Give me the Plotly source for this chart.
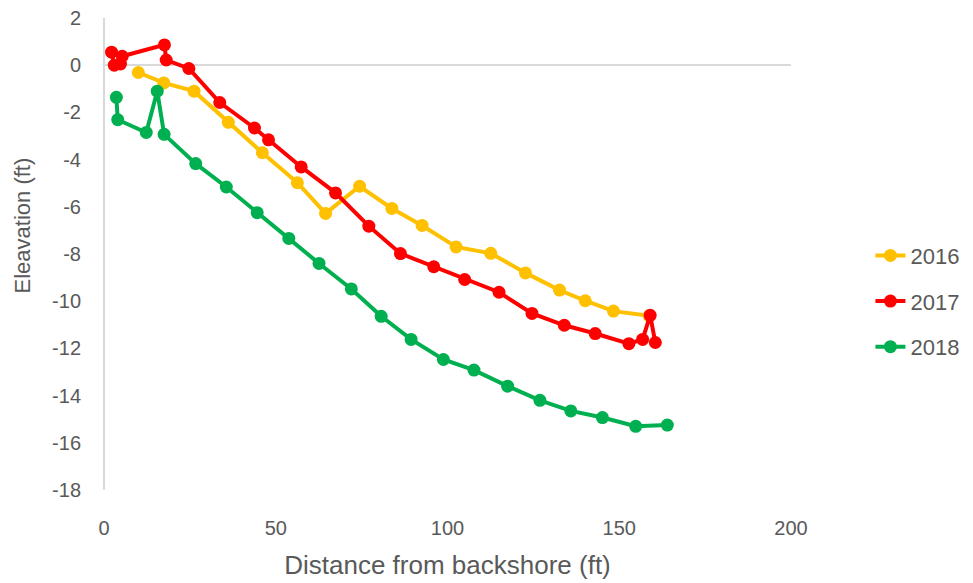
import plotly.graph_objects as go

# ---- data ----
x_2016 = [10.0, 17.4, 26.2, 36.2, 46.1, 56.3, 64.5, 74.4, 83.8, 92.6, 102.5, 112.6, 122.7, 132.6, 140.1, 148.3, 158.7]
y_2016 = [-0.31, -0.75, -1.10, -2.42, -3.71, -4.98, -6.28, -5.13, -6.07, -6.79, -7.70, -7.97, -8.80, -9.53, -9.98, -10.42, -10.62]

x_2017 = [2.2, 3.0, 4.8, 5.3, 17.6, 18.1, 24.7, 33.7, 43.8, 47.9, 57.4, 67.4, 77.1, 86.3, 96.0, 105.0, 115.0, 124.6, 134.0, 143.0, 152.8, 156.8, 159.0, 160.5]
y_2017 = [0.55, 0.0, 0.05, 0.38, 0.86, 0.22, -0.14, -1.58, -2.66, -3.16, -4.31, -5.41, -6.82, -7.98, -8.54, -9.08, -9.62, -10.52, -11.02, -11.37, -11.80, -11.62, -10.60, -11.75]

x_2018 = [3.6, 4.0, 12.3, 15.5, 17.5, 26.7, 35.6, 44.6, 53.8, 62.6, 72.0, 80.7, 89.4, 98.8, 107.7, 117.5, 126.9, 135.9, 145.1, 154.8, 164.0]
y_2018 = [-1.36, -2.31, -2.85, -1.10, -2.93, -4.17, -5.16, -6.25, -7.34, -8.40, -9.48, -10.64, -11.62, -12.47, -12.92, -13.60, -14.20, -14.65, -14.93, -15.30, -15.25]

series_names = ["2016", "2017", "2018"]
series_colors = ["#FFC000", "#FF0000", "#00B050"]

x_ticks = [0, 50, 100, 150, 200]
x_ticktext = ["0", "50", "100", "150", "200"]
y_ticks = [-18, -16, -14, -12, -10, -8, -6, -4, -2, 0, 2]
y_ticktext = ["-18", "-16", "-14", "-12", "-10", "-8", "-6", "-4", "-2", "0", "2"]

x_title = "Distance from backshore (ft)"
y_title = "Eleavation (ft)"

grey = "#595959"
axis_line = "#D9D9D9"
font_family = "Liberation Sans, Arial, sans-serif"

fig = go.Figure()
for name, xs, ys, col in zip(series_names, [x_2016, x_2017, x_2018], [y_2016, y_2017, y_2018], series_colors):
    fig.add_trace(go.Scatter(
        x=xs, y=ys, name=name, mode="lines+markers",
        line=dict(color=col, width=4),
        marker=dict(color=col, size=13),
        legendgroup=name,
    ))

# The page body has an 8px margin, so the figure is 8px smaller and margins shifted.
fig.update_layout(
    width=965, height=575,
    margin=dict(l=96, r=181, t=10, b=93),
    paper_bgcolor="white", plot_bgcolor="white",
    font=dict(family=font_family, color=grey, size=20),
    showlegend=True,
    legend=dict(
        x=1.114, xanchor="left", y=0.541, yanchor="top",
        font=dict(size=22, color=grey),
        tracegroupgap=14,
        bgcolor="rgba(0,0,0,0)",
    ),
    xaxis=dict(
        range=[0, 200], tickvals=x_ticks, ticktext=x_ticktext,
        showgrid=False, zeroline=True, zerolinecolor=axis_line, zerolinewidth=1.5,
        showline=False, ticks="", ticklabelstandoff=24, automargin=False,
        ticklabeloverflow="allow",
        tickfont=dict(size=20, color=grey),
        title=dict(text=x_title, font=dict(size=26, color=grey), standoff=17),
    ),
    yaxis=dict(
        range=[-18, 2], tickvals=y_ticks, ticktext=y_ticktext,
        showgrid=False, zeroline=True, zerolinecolor=axis_line, zerolinewidth=1.5,
        showline=False, ticks="", ticklabelstandoff=22, automargin=False,
        ticklabeloverflow="allow",
        tickfont=dict(size=20, color=grey),
    ),
    annotations=[dict(
        text=y_title, textangle=-90, showarrow=False,
        xref="paper", yref="paper", x=-0.119, y=0.561,
        xanchor="center", yanchor="middle",
        font=dict(size=22, color=grey),
    )],
)

fig.write_html("out.html")
